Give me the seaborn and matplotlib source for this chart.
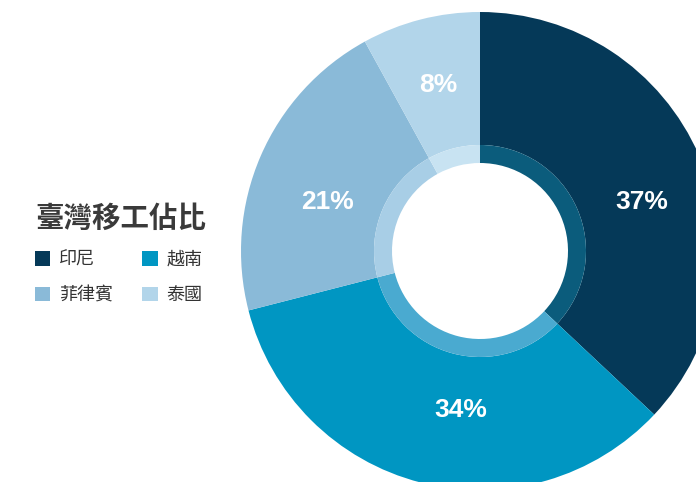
import matplotlib
matplotlib.use("Agg")
import matplotlib.pyplot as plt
from matplotlib.patches import Patch
import seaborn as sns

# data
countries = ["印尼", "越南", "菲律賓", "泰國"]
shares = [37, 34, 21, 8]
title = "臺灣移工佔比"

outer_colors = ["#053958", "#0096c2", "#8abad8", "#b2d5ea"]
ring_colors = ["#0b5c7c", "#4aaad0", "#a8cee6", "#c8e3f2"]

sns.set_theme(style="white")
plt.rcParams["font.family"] = ["Noto Sans CJK TC", "DejaVu Sans"]

fig = plt.figure(figsize=(6.96, 4.82), dpi=100)
ax = fig.add_axes([0, 0, 1, 1])

# work in pixel units: donut centre and radii
cx, cy = 480, 231
r_out, r_ring, r_hole = 239, 106, 88

wedges, texts, autotexts = ax.pie(
    shares, colors=outer_colors, startangle=90, counterclock=False,
    center=(cx, cy), radius=r_out,
    wedgeprops=dict(width=r_out - r_ring, linewidth=0),
    autopct="%d%%", pctdistance=0.7,
    textprops=dict(color="white", fontsize=19, fontweight="bold",
                   family=["Liberation Sans", "DejaVu Sans"]),
)
ax.pie(
    shares, colors=ring_colors, startangle=90, counterclock=False,
    center=(cx, cy), radius=r_ring,
    wedgeprops=dict(width=r_ring - r_hole, linewidth=0),
)

# small nudges so labels sit where the original put them
nudges = [(8, -17), (22, 3), (1, -17), (0, 4)]
for t, (dx, dy) in zip(autotexts, nudges):
    x, y = t.get_position()
    t.set_position((x + dx, y + dy))

ax.set_xlim(0, 696)
ax.set_ylim(0, 482)
ax.set_aspect("equal")
ax.axis("off")

# legend fills column by column, so reorder to read row by row
order = [0, 2, 1, 3]
handles = [Patch(facecolor=outer_colors[i], edgecolor="none") for i in order]
labels = [countries[i] for i in order]
leg = fig.legend(
    handles, labels, ncol=2, title=title,
    loc="upper left", bbox_to_anchor=(26 / 696, 1 - 196 / 482),
    frameon=False, borderpad=0,
    title_fontproperties=dict(size=20.5, weight="bold"),
    prop=dict(size=13, weight="medium"),
    handlelength=0.85, handleheight=0.85, handletextpad=0.5,
    columnspacing=1.6, labelspacing=0.98, alignment="left",
    labelcolor="#333333",
)
leg.get_title().set_color("#3a3a3a")

fig.savefig("out.png", dpi=100)
